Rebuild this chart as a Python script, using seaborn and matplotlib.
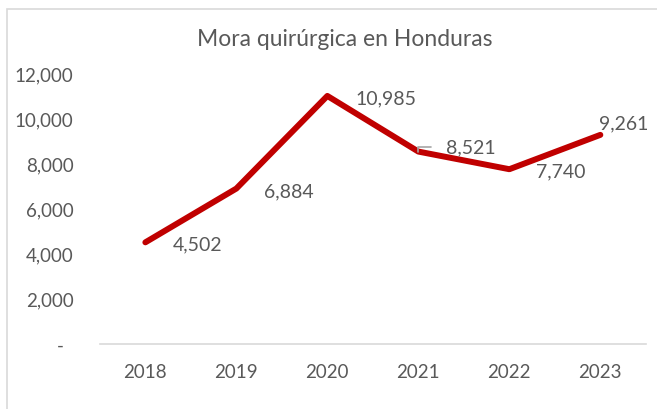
import matplotlib
matplotlib.use("Agg")
import matplotlib.pyplot as plt
import matplotlib.patches as mpatches
from matplotlib.ticker import FuncFormatter
import seaborn as sns
import pandas as pd

# data
years = ["2018", "2019", "2020", "2021", "2022", "2023"]
mora = [4502, 6884, 10985, 8521, 7740, 9261]
title = "Mora quirúrgica en Honduras"

# label offsets in pixels (dx, dy), style only
label_offsets = [(27, -2), (28, -2), (28, -2), (28, 5), (27, -2), (-1, 12)]

sns.set_style("white")
plt.rcParams['font.family'] = ['Lato', 'DejaVu Sans']

text_col = "#595959"
line_col = "#C00000"
fs = 14

df = pd.DataFrame({"year": years, "mora": mora})

fig = plt.figure(figsize=(6.57, 4.10), dpi=100)
ax = fig.add_axes([0.152, 0.1585, 0.831, 0.661])

sns.lineplot(data=df, x="year", y="mora", ax=ax, color=line_col,
             linewidth=4.3, sort=False, solid_capstyle="round", zorder=3)

ax.set_xlim(-0.5, 5.5)
ax.set_ylim(0, 12000)
ax.set_yticks(range(0, 12001, 2000))
ax.yaxis.set_major_formatter(FuncFormatter(lambda v, p: "-  " if v == 0 else f"{int(v):,}"))
ax.tick_params(axis="y", length=0, pad=19, labelsize=13.5, labelcolor=text_col)
ax.tick_params(axis="x", length=0, pad=14, labelsize=13.5, labelcolor=text_col)
ax.set_xlabel("")
ax.set_ylabel("")

for s in ["top", "right", "left"]:
    ax.spines[s].set_visible(False)
ax.spines["bottom"].set_color("#D9D9D9")
ax.spines["bottom"].set_linewidth(1.2)

for i, (v, off) in enumerate(zip(mora, label_offsets)):
    if i == 3:
        ax.annotate(f"{v:,}", xy=(i, v), xytext=off, textcoords="offset pixels",
                    ha="left", va="center", fontsize=fs, color=text_col,
                    arrowprops=dict(arrowstyle="-", color="#A6A6A6", lw=1.2,
                                    shrinkA=9, shrinkB=0,
                                    connectionstyle="angle,angleA=0,angleB=90,rad=0"))
    else:
        ax.annotate(f"{v:,}", xy=(i, v), xytext=off, textcoords="offset pixels",
                    ha="left", va="center", fontsize=fs, color=text_col)

fig.text(345 / 657, 1 - 40 / 410, title, ha="center", va="center",
         fontsize=16.5, color=text_col)

# chart frame (right and bottom edges fall outside the image)
frame = mpatches.Rectangle((7 / 657, -0.1), 1.2, 1.1 - 10 / 410,
                           transform=fig.transFigure, fill=False,
                           edgecolor="#D9D9D9", linewidth=1.2)
fig.patches.append(frame)

fig.savefig("out.png", dpi=100)
